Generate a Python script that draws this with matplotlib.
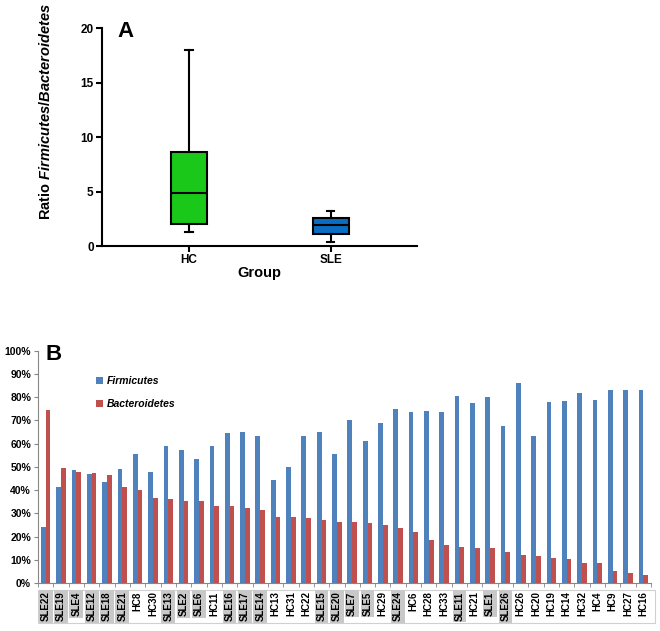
import matplotlib
matplotlib.use('Agg')
import matplotlib.pyplot as plt
from matplotlib.patches import Rectangle
import numpy as np

# panel A: box plot summary (whisker low, q1, median, q3, whisker high)
groups = ['HC', 'SLE']
whis_lo = [1.3, 0.4]
q1 = [2.0, 1.1]
medians = [4.9, 1.95]
q3 = [8.6, 2.55]
whis_hi = [18.0, 3.2]
box_colors = ['#19C819', '#0A6CC2']

# panel B: relative abundance per sample
samples = ['SLE22', 'SLE19', 'SLE4', 'SLE12', 'SLE18', 'SLE21', 'HC8', 'HC30', 'SLE13', 'SLE2',
           'SLE6', 'HC11', 'SLE16', 'SLE17', 'SLE14', 'HC13', 'HC31', 'HC22', 'SLE15', 'SLE20',
           'SLE7', 'SLE5', 'HC29', 'SLE24', 'HC6', 'HC28', 'HC33', 'SLE11', 'HC21', 'SLE1',
           'SLE26', 'HC26', 'HC20', 'HC19', 'HC14', 'HC32', 'HC4', 'HC9', 'HC27', 'HC16']
firmicutes = [24, 41.5, 48.5, 47, 43.5, 49, 55.5, 48, 59, 57.5,
              53.5, 59, 64.5, 65, 63.5, 44.5, 50, 63.5, 65, 55.5,
              70, 61, 69, 75, 73.5, 74, 73.5, 80.5, 77.5, 80,
              67.5, 86, 63.5, 78, 78.5, 82, 79, 83, 83, 83]
bacteroidetes = [74.5, 49.5, 48, 47.5, 46.5, 41.5, 40, 36.5, 36, 35.5,
                 35.5, 33, 33, 32.5, 31.5, 28.5, 28.5, 28, 27, 26.5,
                 26.5, 26, 25, 23.5, 22, 18.5, 16.5, 15.5, 15, 15,
                 13.5, 12, 11.5, 11, 10.5, 8.5, 8.5, 5, 4.5, 3.5]

plt.rcParams['font.family'] = ['Liberation Sans', 'DejaVu Sans']
plt.rcParams['mathtext.fontset'] = 'custom'
plt.rcParams['mathtext.it'] = 'Liberation Sans:italic:bold'
plt.rcParams['mathtext.rm'] = 'Liberation Sans:bold'

fig = plt.figure(figsize=(6.6, 6.31), dpi=100)

# ---------- panel A ----------
axA = fig.add_axes([0.1545, 0.610, 0.478, 0.3456])
stats = []
for i in range(len(groups)):
    stats.append({'whislo': whis_lo[i], 'q1': q1[i], 'med': medians[i],
                  'q3': q3[i], 'whishi': whis_hi[i], 'fliers': []})
bp = axA.bxp(stats, positions=[1, 2], widths=0.25, patch_artist=True, showfliers=False,
             boxprops=dict(linewidth=1.5, edgecolor='black'),
             medianprops=dict(color='black', linewidth=1.5),
             whiskerprops=dict(color='black', linewidth=1.5),
             capprops=dict(color='black', linewidth=1.5), capwidths=0.05)
for patch, c in zip(bp['boxes'], box_colors):
    patch.set_facecolor(c)
axA.set_xlim(0.387, 2.61)
axA.set_ylim(0, 20)
axA.set_yticks([0, 5, 10, 15, 20])
axA.set_xticks([1, 2])
axA.set_xticklabels(groups)
for side in ['top', 'right']:
    axA.spines[side].set_visible(False)
for side in ['left', 'bottom']:
    axA.spines[side].set_linewidth(1.5)
axA.tick_params(width=1.5, length=4, labelsize=8.5, pad=2)
for lbl in axA.get_xticklabels() + axA.get_yticklabels():
    lbl.set_fontweight('bold')
axA.set_xlabel('Group', fontsize=10.5, fontweight='bold', labelpad=0)
axA.set_ylabel(r'Ratio $\mathit{Firmicutes/Bacteroidetes}$', fontsize=10.5, fontweight='bold')
axA.yaxis.set_label_coords(-0.155, 0.615)
axA.text(0.05, 1.03, 'A', transform=axA.transAxes, fontsize=16, fontweight='bold', va='top')

# ---------- panel B ----------
axB = fig.add_axes([0.0576, 0.076, 0.9288, 0.368])
x = np.arange(len(samples))
w = 0.31
axB.bar(x - w / 2, firmicutes, w, color='#4F81BD', label='Firmicutes')
axB.bar(x + w / 2, bacteroidetes, w, color='#C0504D', label='Bacteroidetes')
axB.set_xlim(-0.5, len(samples) - 0.5)
axB.set_ylim(0, 100)
axB.set_yticks(range(0, 101, 10))
axB.set_yticklabels([f'{v}%' for v in range(0, 101, 10)])
for side in ['top', 'right']:
    axB.spines[side].set_visible(False)
axB.spines['left'].set_color('#868686')
axB.spines['bottom'].set_color('#868686')
axB.tick_params(axis='y', length=3, color='#868686', labelsize=7.5, pad=2)
axB.set_xticks(x)
axB.set_xticks(np.arange(-0.5, len(samples), 1), minor=True)
axB.tick_params(axis='x', which='major', length=0, pad=6, labelsize=7)
axB.tick_params(axis='x', which='minor', length=3, color='#868686')
axB.set_xticklabels(samples, rotation=90)
for lbl in axB.get_yticklabels():
    lbl.set_fontweight('bold')
for lbl, s in zip(axB.get_xticklabels(), samples):
    lbl.set_fontweight('bold')
    if s.startswith('SLE'):
        lbl.set_bbox(dict(facecolor='#C8C8C8', edgecolor='none', pad=1.3))
axB.add_patch(Rectangle((0, -0.172), 1.007, 0.142, transform=axB.transAxes,
                        fill=False, edgecolor='#D0D0D0', linewidth=0.8, clip_on=False))
leg = axB.legend(loc='upper left', bbox_to_anchor=(0.08, 0.93), frameon=False,
                 prop={'style': 'italic', 'weight': 'bold', 'size': 7.5},
                 handlelength=0.6, handleheight=0.6, labelspacing=1.2, handletextpad=0.4)
axB.text(0.012, 1.03, 'B', transform=axB.transAxes, fontsize=16, fontweight='bold', va='top')

fig.savefig('out.png', dpi=100)
